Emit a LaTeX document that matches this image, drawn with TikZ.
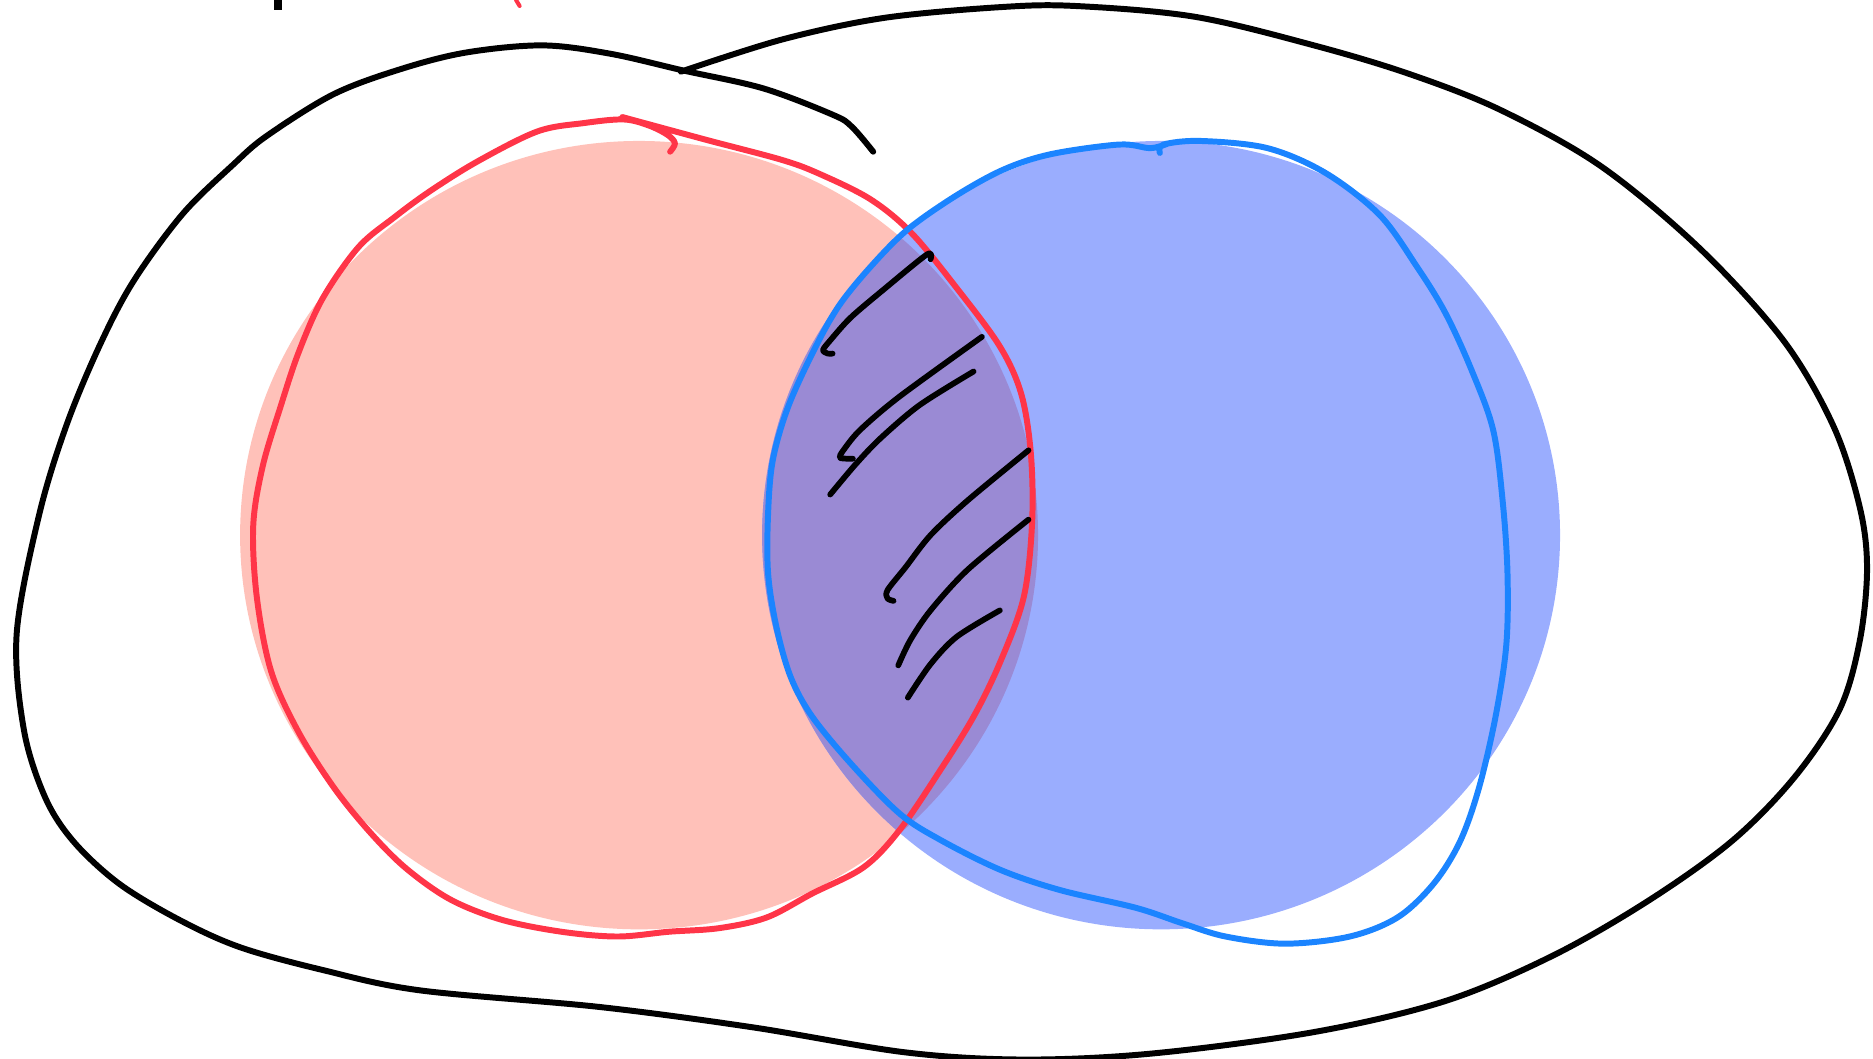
\documentclass[tikz,border=0pt]{standalone}
\definecolor{pinkfill}{HTML}{FFC1B9}
\definecolor{bluefill}{HTML}{9AADFE}
\definecolor{purplefill}{HTML}{9A8AD4}
\definecolor{redline}{HTML}{FF3548}
\definecolor{blueline}{HTML}{1B84FF}
\tikzset{
  penline/.style={line width=5pt, line cap=round, line join=round},
  blackpen/.style={penline, black},
  redpen/.style={penline, redline},
  bluepen/.style={penline, blueline},
  hatchpen/.style={penline, black, line width=4.8pt}
}
\begin{document}
\begin{tikzpicture}[x=1pt,y=-1pt]
\useasboundingbox (0,0) rectangle (1568,886);
\clip (0,0) rectangle (1568,886);
% filled sets
\fill[pinkfill] (535,448) ellipse [x radius=334, y radius=330];
\fill[bluefill] (972,448) ellipse [x radius=334, y radius=330];
\begin{scope}
  \clip (535,448) ellipse [x radius=334, y radius=330];
  \fill[purplefill] (972,448) ellipse [x radius=334, y radius=330];
\end{scope}
% top-left marks
\fill[black] (229,0) rectangle (236,8);
\draw[redpen, line width=3.4pt] (432,0) -- (435,5);
% outer black outline
\draw[blackpen] plot[smooth, tension=0.55] coordinates {
(570,60) (655,33) (740,15) (837,6) (900,5) (1000,14) (1100,38) (1180,62)
(1256,92) (1340,139) (1423,208) (1493,285) (1535,357) (1557,425) (1563,476)
(1557,536) (1540,594) (1502,651) (1450,704) (1380,754) (1300,800) (1210,838)
(1100,864) (964,882) (857,887) (758,881) (630,860) (502,843) (351,829) (270,812)
(201,793) (150,770) (100,740) (62,705) (38,668) (20,611) (14,530) (33,430)
(56,355) (84,288) (112,235) (153,179) (195,138) (223,114) (279,79) (335,58)
(390,44) (454,38) (511,45) (572,59) (639,74) (697,96) (713,106) (731,127)};
% red outline
\draw[redpen] plot[smooth, tension=0.55] coordinates {
(521,98) (591,117) (655,134) (687,146) (729,167) (763,195) (800,240) (837,290)
(855,330) (863,380) (864,438) (857,500) (837,555) (815,600) (787,645) (753,695)
(723,726) (680,748) (642,768) (602,777) (560,780) (517,784) (470,780) (420,770)
(377,753) (340,727) (310,697) (280,660) (250,613) (227,562) (215,500) (212,440)
(220,390) (235,340) (250,295) (270,250) (300,207) (330,182)
(360,160) (400,135) (450,110) (489,103) (522,100) (543,105) (559,113) (565,120)
(561,127)};
% blue outline
\draw[bluepen] plot[smooth, tension=0.55] coordinates {
(971,128) (974,121) (1005,118) (1061,124) (1110,145) (1155,180) (1186,223)
(1210,262) (1232,310) (1250,360) (1258,420) (1262,480) (1261,540) (1252,600)
(1238,660) (1222,705) (1200,740) (1170,768) (1130,784) (1076,790) (1026,784)
(990,773) (951,760) (887,745) (837,728) (787,703) (753,681) (713,640) (680,600)
(662,567) (650,525) (643,480) (643,430) (647,385) (660,340) (683,290) (703,255)
(730,222) (760,192) (800,164) (840,142) (880,129) (937,121) (963,124) (978,120)};
% hatch strokes
\draw[hatchpen] plot[smooth, tension=0.5] coordinates {
(779,217) (776,213) (739,243) (712,266) (695,285) (689,293) (693,296) (697,296)};
\draw[hatchpen] plot[smooth, tension=0.5] coordinates {
(822,282) (753,332) (720,360) (706,377) (703,383) (709,384) (714,384)};
\draw[hatchpen] plot[smooth, tension=0.5] coordinates {
(815,311) (770,339) (737,367) (716,389) (695,414)};
\draw[hatchpen] plot[smooth, tension=0.5] coordinates {
(861,377) (810,419) (779,448) (758,475) (743,494) (743,501) (748,503)};
\draw[hatchpen] plot[smooth, tension=0.5] coordinates {
(861,435) (810,477) (779,511) (762,536) (752,557)};
\draw[hatchpen] plot[smooth, tension=0.5] coordinates {
(837,511) (801,533) (779,556) (760,584)};
\end{tikzpicture}
\end{document}
